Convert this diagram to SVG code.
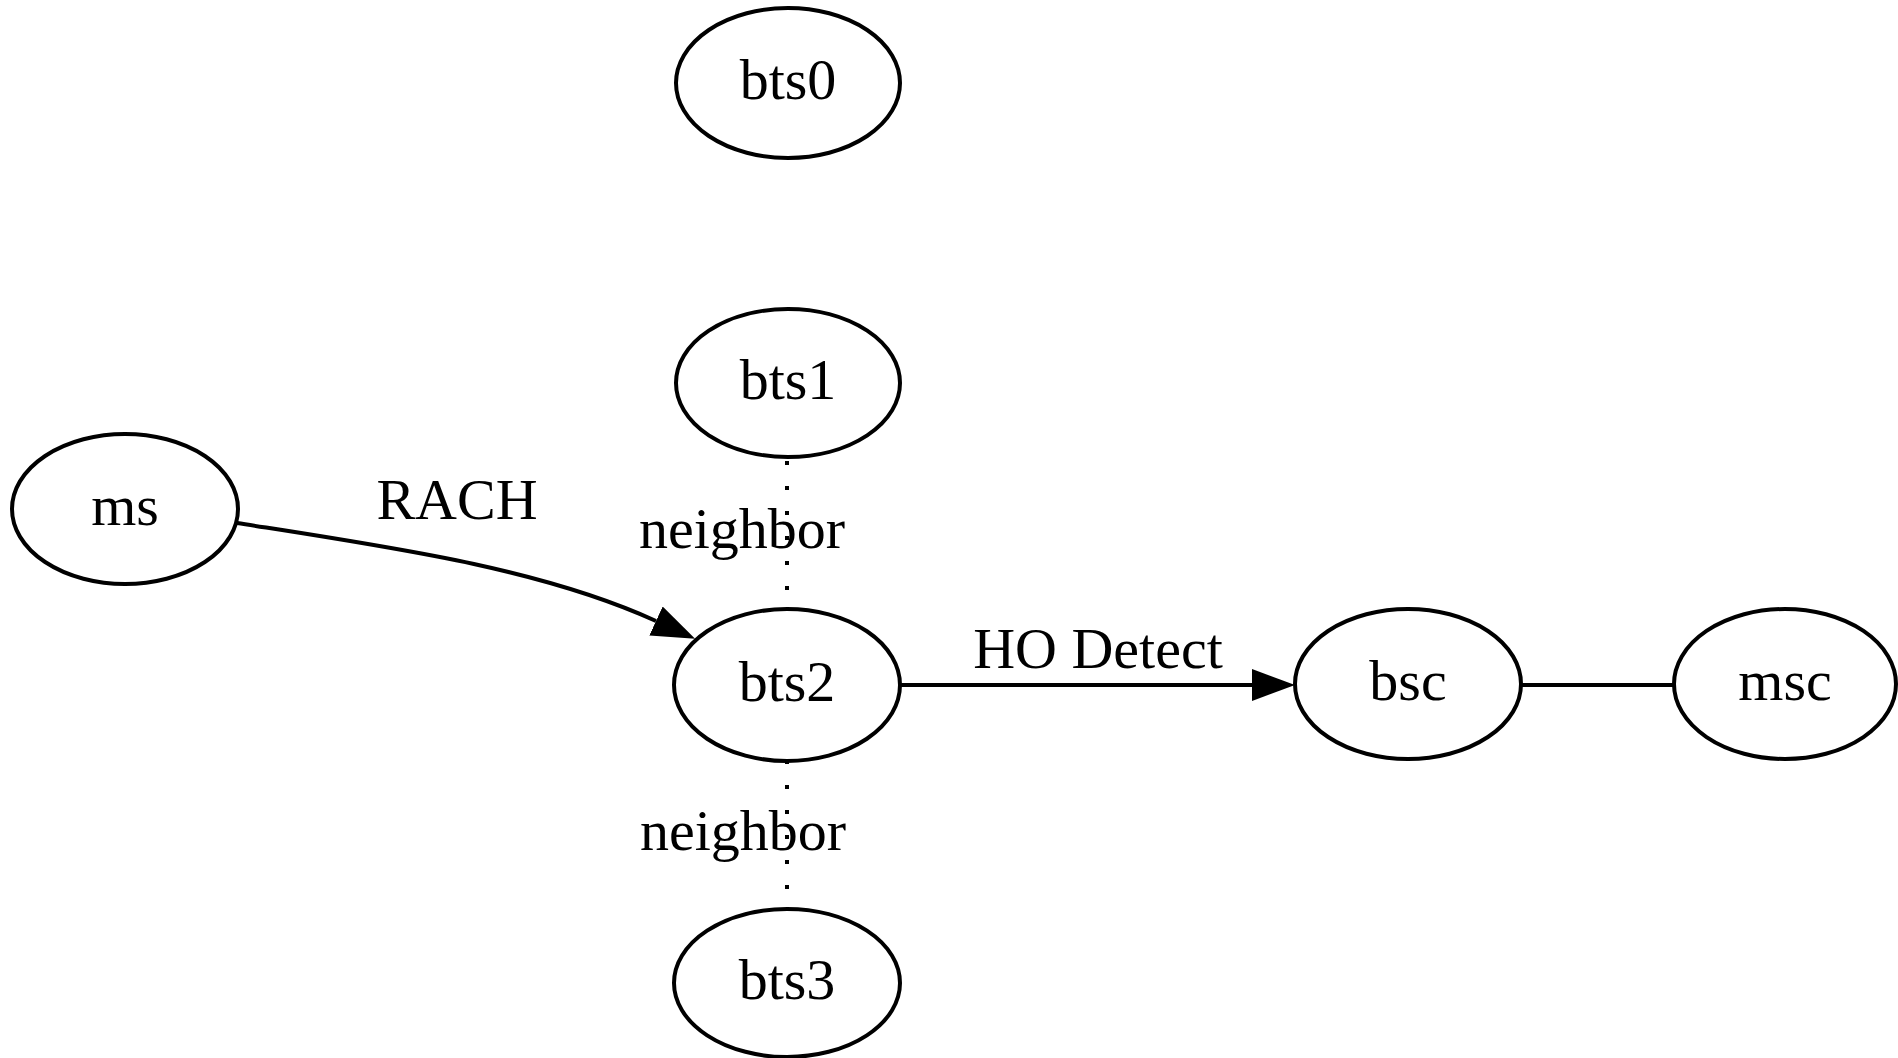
<svg xmlns="http://www.w3.org/2000/svg" width="1898" height="1058" viewBox="0 0 1898 1058">
  <style>
    .node ellipse { fill: none; stroke: #000; stroke-width: 4; }
    text { font-family: "Liberation Serif", "Times New Roman", serif; font-size: 58px; fill: #000; text-anchor: middle; }
    .edge { fill: none; stroke: #000; stroke-width: 4; }
    .dotted { stroke-dasharray: 4 21; }
    .head { fill: #000; stroke: none; }
  </style>
  <defs>
    <marker id="arrow" markerUnits="userSpaceOnUse" viewBox="0 -17 44 34" refX="0" refY="0" markerWidth="44" markerHeight="34" orient="auto">
      <path d="M0,-16 L43,0 L0,16 z" class="head"/>
    </marker>
  </defs>
  <rect x="0" y="0" width="1898" height="1058" fill="#fff"/>

  <g id="connectors">
    <!-- ms -> bts2 -->
    <g id="edge-ms-bts2">
      <path class="edge" d="M237,523 C390,547 540,568 656,621" marker-end="url(#arrow)"/>
      <text x="457" y="519">RACH</text>
    </g>
    <!-- bts1 .. bts2 -->
    <g id="edge-bts1-bts2">
      <line class="edge dotted" x1="787" y1="461" x2="787" y2="606"/>
      <text x="742" y="548">neighbor</text>
    </g>
    <!-- bts2 .. bts3 -->
    <g id="edge-bts2-bts3">
      <line class="edge dotted" x1="787" y1="760" x2="787" y2="907"/>
      <text x="743" y="850">neighbor</text>
    </g>
    <!-- bts2 -> bsc -->
    <g id="edge-bts2-bsc">
      <path class="edge" d="M901,685 L1252,685" marker-end="url(#arrow)"/>
      <text x="1098" y="668">HO Detect</text>
    </g>
    <!-- bsc - msc -->
    <g id="edge-bsc-msc">
      <line class="edge" x1="1521" y1="685" x2="1674" y2="685"/>
    </g>
  </g>

  <g id="bts0" class="node">
    <ellipse cx="788" cy="83" rx="112" ry="75"/>
    <text x="788" y="99">bts0</text>
  </g>
  <g id="bts1" class="node">
    <ellipse cx="788" cy="383" rx="112" ry="74"/>
    <text x="788" y="399">bts1</text>
  </g>
  <g id="ms" class="node">
    <ellipse cx="125" cy="509" rx="113" ry="75"/>
    <text x="125" y="525">ms</text>
  </g>
  <g id="bts2" class="node">
    <ellipse cx="787" cy="685" rx="113" ry="76"/>
    <text x="787" y="701">bts2</text>
  </g>
  <g id="bts3" class="node">
    <ellipse cx="787" cy="983" rx="113" ry="74"/>
    <text x="787" y="999">bts3</text>
  </g>
  <g id="bsc" class="node">
    <ellipse cx="1408" cy="684" rx="113" ry="75"/>
    <text x="1408" y="700">bsc</text>
  </g>
  <g id="msc" class="node">
    <ellipse cx="1785" cy="684" rx="111" ry="75"/>
    <text x="1785" y="700">msc</text>
  </g>
</svg>
